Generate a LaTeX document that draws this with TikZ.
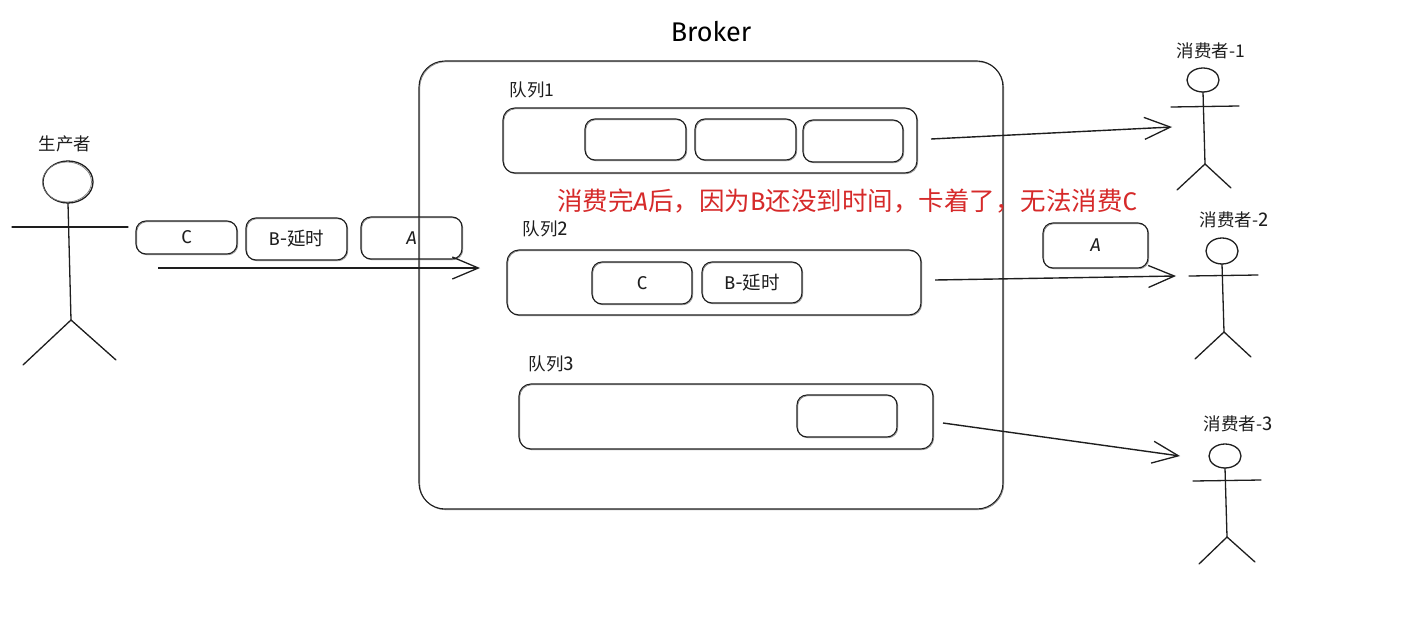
\documentclass[tikz,border=0pt]{standalone}
\usepackage{fontspec}
\usetikzlibrary{arrows.meta}
\setmainfont{Noto Sans CJK SC}
\newfontfamily\hand{Fira Sans}
\definecolor{ink}{HTML}{1E1E1E}
\definecolor{redink}{HTML}{D62A2A}
\tikzset{
  x=1pt,y=-1pt,
  sketch/.style={draw=ink,line width=1.1pt,rounded corners=#1,
    preaction={draw=ink!55,line width=0.6pt,rounded corners=#1,transform canvas={shift={(0.8pt,-0.8pt)}}}},
  sketch/.default=10pt,
  limb/.style={draw=ink,line width=1.3pt,line cap=round},
  flow/.style={draw=ink,line width=1.4pt,-{Straight Barb[length=26pt,width=22pt,line width=1.3pt]}},
  label/.style={font=\fontsize{17.5}{19}\selectfont,text=ink,inner sep=0pt},
  boxlabel/.style={font=\fontsize{18.5}{20}\selectfont,text=ink,inner sep=0pt},
}
\newcommand{\boxat}[6]{% name, x1, y1, x2, y2, text
  \path[sketch] (#2,#3) rectangle (#4,#5);
  \node[boxlabel] (#1) at ({(#2+#4)/2},{(#3+#5)/2}) {#6};}
\newcommand{\actor}[9]{% name, neck x,y, hip x,y, arm-left x,y, arm-right x,y
  \coordinate (#1-neck) at (#2,#3);
  \coordinate (#1-hip) at (#4,#5);
  \coordinate (#1-al) at (#6,#7);
  \coordinate (#1-ar) at (#8,#9);
  \draw[limb] (#1-neck) -- (#1-hip);
  \draw[limb] (#1-al) -- (#1-ar);}
\newcommand{\Lat}[1]{{\hand #1}}
\begin{document}
\begin{tikzpicture}
\useasboundingbox (0,0) rectangle (1410,616);
\fill[white] (0,0) rectangle (1410,616);

% broker
\path[sketch=26pt] (419,61) rectangle (1003,509);
\node[inner sep=0pt,text=black,font=\fontsize{27}{29}\selectfont\hand] (title) at (711,32) {Broker};

% producer
\draw[limb] (68,182) ellipse [x radius=25,y radius=21];
\draw[draw=ink!60,line width=0.7pt] (67,182) ellipse [x radius=24.5,y radius=20];
\node[label] (plabel) at (65,144) {生产者};
\actor{p}{68}{203}{71}{320}{12}{227}{128}{227}
\coordinate (p-l) at (23,365); \coordinate (p-r) at (116,360);
\draw[limb] (p-l) -- (p-hip) -- (p-r);

% messages in flight
\boxat{mc}{136}{221}{237}{254}{\Lat{C}}
\boxat{mb}{246}{218}{347}{260}{\Lat{B-}延时}
\boxat{ma}{361}{217}{462}{259}{\Lat{\itshape A}}
\coordinate (in1) at (158,268); \coordinate (in2) at (480,268);
\draw[flow] (in1) -- (in2);

% queue 1
\path[sketch=12pt] (503,108) rectangle (917,173);
\node[label] (q1l) at (532,90) {队列1};
\path[sketch] (585,119) rectangle (686,160);
\path[sketch] (695,119) rectangle (796,160);
\path[sketch] (803,120) rectangle (903,162);

% queue 2
\path[sketch=12pt] (507,250) rectangle (921,315);
\node[label] (q2l) at (545,229) {队列\Lat{\fontsize{20}{20}\selectfont 2}};
\boxat{q2c}{592}{262}{692}{304}{\Lat{C}}
\boxat{q2b}{702}{262}{802}{303}{\Lat{B-}延时}

% queue 3
\path[sketch=12pt] (519,384) rectangle (933,449);
\node[label] (q3l) at (551,364) {队列\Lat{\fontsize{20}{20}\selectfont 3}};
\path[sketch] (797,395) rectangle (897,437);

% note
\node[inner sep=0pt,text=redink,font=\fontsize{25.5}{27}\selectfont] (note) at (847,201)
  {消费完\Lat{\itshape A}后，因为\Lat{B}还没到时间，卡着了，无法消费\Lat{C}};

% message consumed
\boxat{ca}{1043}{223}{1148}{268}{\Lat{\itshape A}}

% flows
\coordinate (o1a) at (931,139); \coordinate (o1b) at (1172,127);
\coordinate (o2a) at (935,280); \coordinate (o2b) at (1176,276);
\coordinate (o3a) at (943,423); \coordinate (o3b) at (1180,456);
\draw[flow] (o1a) -- (o1b);
\draw[flow] (o2a) -- (o2b);
\draw[flow] (o3a) -- (o3b);

% consumer 1
\draw[limb] (1203,80) ellipse [x radius=16,y radius=12];
\node[label] (c1l) at (1211,51) {消费者-1};
\actor{c1}{1203}{92}{1205}{164}{1171}{107}{1239}{106}
\coordinate (c1-l) at (1177,190); \coordinate (c1-r) at (1231,188);
\draw[limb] (c1-l) -- (c1-hip) -- (c1-r);

% consumer 2
\draw[limb] (1222,251) ellipse [x radius=16,y radius=13];
\node[label] (c2l) at (1234,220) {消费者-\Lat{\fontsize{20}{20}\selectfont 2}};
\actor{c2}{1222}{264}{1224}{332}{1189}{276}{1258}{275}
\coordinate (c2-l) at (1195,359); \coordinate (c2-r) at (1251,357);
\draw[limb] (c2-l) -- (c2-hip) -- (c2-r);

% consumer 3
\draw[limb] (1225,456) ellipse [x radius=16,y radius=12];
\node[label] (c3l) at (1238,424) {消费者-\Lat{\fontsize{20}{20}\selectfont 3}};
\actor{c3}{1225}{468}{1227}{537}{1193}{481}{1261}{480}
\coordinate (c3-l) at (1199,564); \coordinate (c3-r) at (1255,562);
\draw[limb] (c3-l) -- (c3-hip) -- (c3-r);
\end{tikzpicture}
\end{document}
